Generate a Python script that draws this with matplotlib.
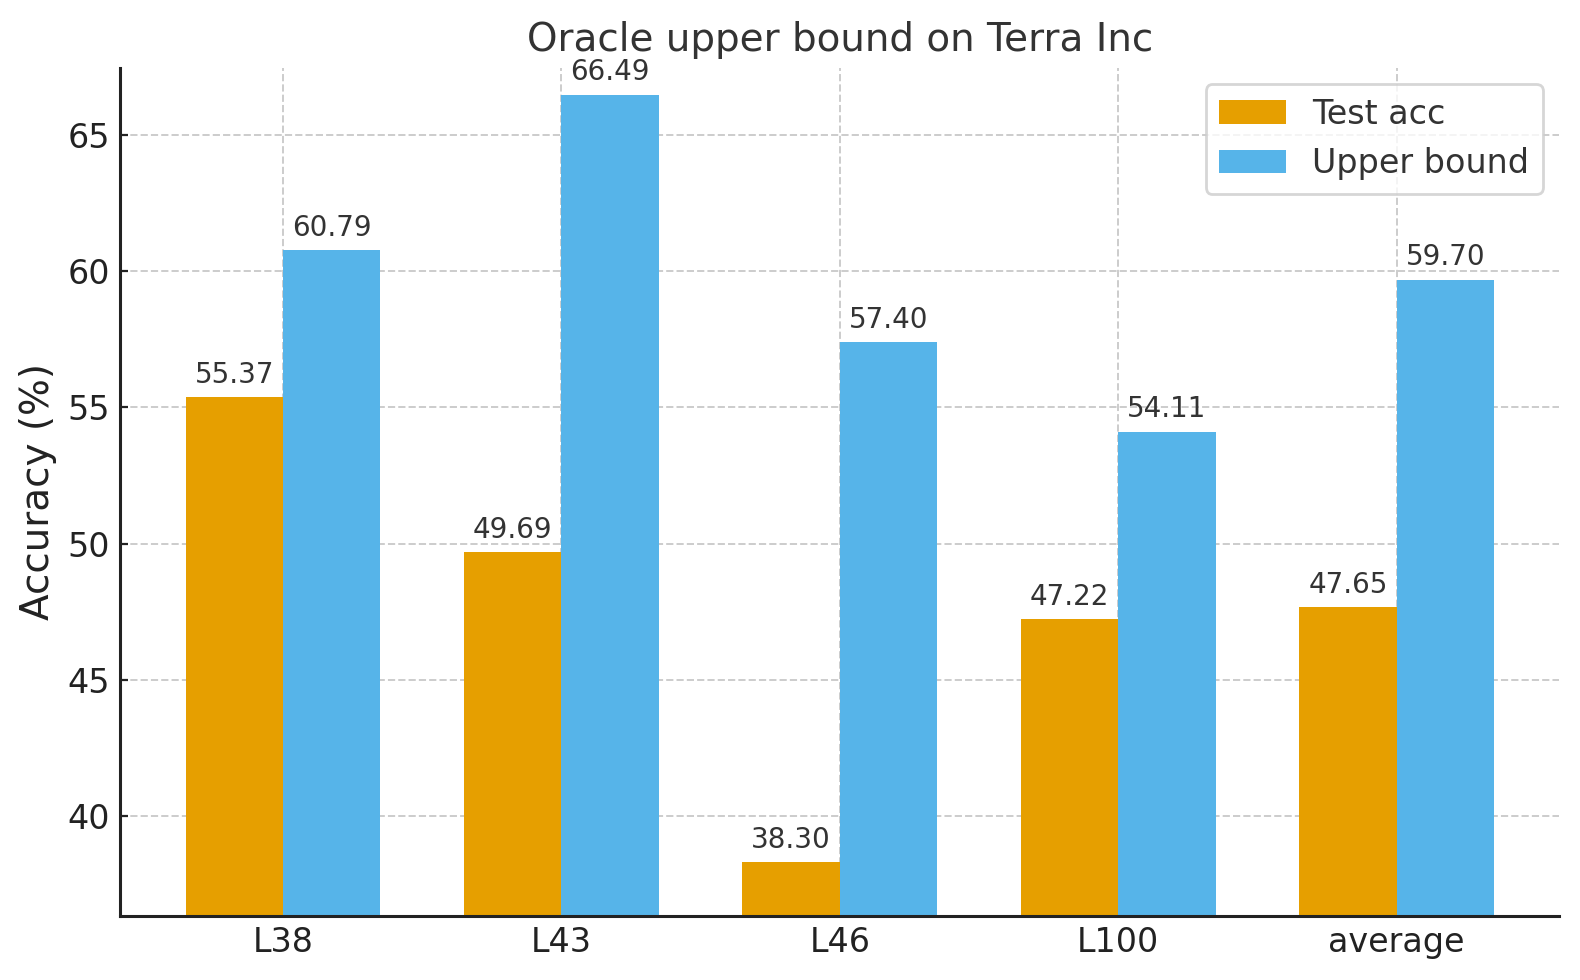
import matplotlib.pyplot as plt
import numpy as np

categories = ['L38', 'L43', 'L46', 'L100', 'average']
test_acc = [55.37, 49.69, 38.30, 47.22, 47.65]
upper_bound = [60.79, 66.49, 57.40, 54.11, 59.70]

plt.rcParams['font.family'] = ['DejaVu Sans']

fig, ax = plt.subplots(figsize=(7.9, 4.9), dpi=200)
x = np.arange(len(categories))
w = 0.35
b1 = ax.bar(x - w / 2, test_acc, w, color='#E69F00', label='Test acc', zorder=2)
b2 = ax.bar(x + w / 2, upper_bound, w, color='#56B4E9', label='Upper bound', zorder=2)

for bars in (b1, b2):
    for b in bars:
        h = b.get_height()
        ax.annotate(f'{h:.2f}', (b.get_x() + b.get_width() / 2, h),
                    xytext=(0, 3), textcoords='offset points',
                    ha='center', va='bottom', fontsize=10, color='#333333')

ax.set_ylim(min(test_acc) - 2, max(upper_bound) + 1)
ax.set_xticks(x)
ax.set_xticklabels(categories)
ax.set_ylabel('Accuracy (%)', fontsize=14, color='#222222')
ax.set_title('Oracle upper bound on Terra Inc', fontsize=14, color='#333333')
ax.tick_params(direction='in', length=3, labelsize=12, colors='#222222')
ax.grid(True, linestyle='--', color='#cccccc', linewidth=0.7, zorder=0)
ax.set_axisbelow(True)
ax.spines['top'].set_visible(False)
ax.spines['right'].set_visible(False)
for s in ('left', 'bottom'):
    ax.spines[s].set_linewidth(1.1)
    ax.spines[s].set_color('#222222')
leg = ax.legend(loc='upper right', fontsize=12, labelcolor='#333333')
leg.get_frame().set_edgecolor('#cccccc')

fig.subplots_adjust(left=0.076, right=0.987, top=0.931, bottom=0.065)
fig.savefig('out.png', dpi=200, facecolor='white')
